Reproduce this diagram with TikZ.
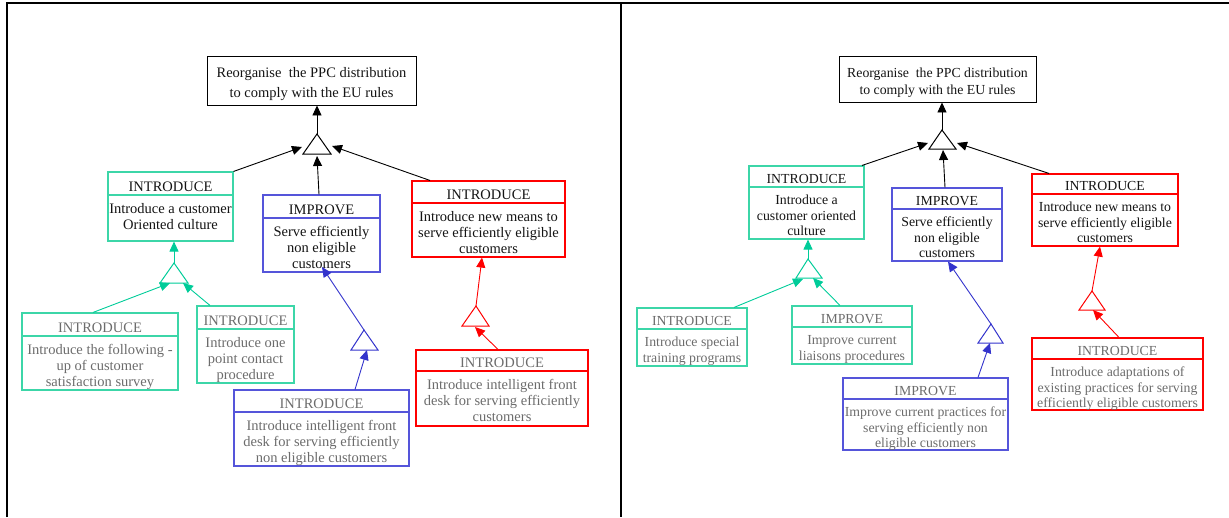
\documentclass[tikz,border=0pt]{standalone}
\usepackage{fontspec}
\setmainfont{Liberation Serif}
\usetikzlibrary{arrows.meta}

\definecolor{gline}{RGB}{0,204,153}
\definecolor{gbord}{RGB}{60,214,168}
\definecolor{bline}{RGB}{51,51,204}
\definecolor{bbord}{RGB}{85,85,218}
\definecolor{rline}{RGB}{255,0,0}
\definecolor{tdark}{RGB}{20,20,20}
\definecolor{tgray}{RGB}{108,108,108}

% goal box: name, x1, y1, x2, y2, divider y, style, header, body
\newcommand\goal[9]{%
  \node[box,#7,minimum width={#4-#2},minimum height={#5-#3}] (#1) at ({(#2+#4)/2},{(#3+#5)/2}) {};
  \draw[box,#7] (#2,#6) -- (#4,#6);
  \node[#7,draw=none,inner sep=0,anchor=base] (#1h) at ({(#2+#4)/2},{#6-4}) {#8};
  \node[#7,draw=none,inner sep=0,anchor=north,align=center] (#1b) at ({(#2+#4)/2},{#6+\bodydrop}) {\strut #9};
}

\tikzset{
  box/.style={rectangle,inner sep=0,line width=1.1pt},
  topbox/.style={rectangle,draw=black,inner sep=0,line width=0.9pt},
  gtop/.style={draw=gbord,text=tdark},
  gsub/.style={draw=gbord,text=tgray},
  btop/.style={draw=bbord,text=tdark},
  bsub/.style={draw=bbord,text=tgray},
  rtop/.style={draw=rline,text=tdark},
  rsub/.style={draw=rline,text=tgray},
  arr/.style={line width=0.9pt,-{Triangle[length=10pt,width=9pt]}},
  tri/.style={line width=1pt,fill=white},
  frame/.style={line width=2pt,black},
}

\begin{document}
\begin{tikzpicture}[x=1pt,y=-1pt]
\useasboundingbox (0,0) rectangle (1229,517);

% panel frame
\draw[frame] (7,517) -- (7,3) -- (1229,3);
\draw[frame] (621,3) -- (621,517);

% ---------------- left panel ----------------
\begin{scope}[every node/.style={font=\fontsize{14.5}{16}\selectfont}]
\def\bodydrop{6.8}
\node[topbox,minimum width=209,minimum height=49] (T1) at (311.5,80.5) {};
\node[text=tdark,inner sep=0,anchor=north,align=center,font=\fontsize{14.5}{20}\selectfont] (T1t) at (311.5,63) {\strut Reorganise\ \ the PPC distribution\\to comply with the EU rules};

\goal{G1}{108}{172}{233}{241}{195}{gtop}{INTRODUCE}{Introduce a customer\\Oriented culture}
\goal{B1}{263}{195}{380}{272}{218}{btop}{IMPROVE}{Serve efficiently\\non eligible\\customers}
\goal{R1}{412}{181}{565}{257}{203}{rtop}{INTRODUCE}{Introduce new means to\\serve efficiently eligible\\customers}
\goal{G2}{22}{313}{178}{390}{336}{gsub}{INTRODUCE}{Introduce the following -\\up of customer\\satisfaction survey}
\goal{G3}{197}{306}{294}{383}{329}{gsub}{INTRODUCE}{Introduce one\\point contact\\procedure}
\goal{B2}{234}{390}{409}{466}{412}{bsub}{INTRODUCE}{Introduce intelligent front\\desk for serving efficiently\\non eligible customers}
\goal{R2}{416}{350}{588}{426}{371}{rsub}{INTRODUCE}{Introduce intelligent front\\desk for serving efficiently\\customers}
\end{scope}

% AND junctions, left panel
\coordinate (K1a) at (317,134); \coordinate (K1l) at (303,154); \coordinate (K1r) at (331,154);
\coordinate (K2a) at (174,263); \coordinate (K2l) at (160,283); \coordinate (K2r) at (188,283);
\coordinate (K3a) at (364,330); \coordinate (K3l) at (351,350); \coordinate (K3r) at (378,350);
\coordinate (K4a) at (476,306); \coordinate (K4l) at (462,326); \coordinate (K4r) at (489,326);
\draw[tri,draw=black] (K1a) -- (K1l) -- (K1r) -- cycle;
\draw[tri,draw=gline] (K2a) -- (K2l) -- (K2r) -- cycle;
\draw[tri,draw=bline] (K3a) -- (K3l) -- (K3r) -- cycle;
\draw[tri,draw=rline] (K4a) -- (K4l) -- (K4r) -- cycle;

\coordinate (K1i1) at (302,147); \coordinate (K1i2) at (317,156); \coordinate (K1i3) at (332,146);
\coordinate (K2i1) at (170,283); \coordinate (K2i2) at (183,283);
\coordinate (K3o) at (322,267); \coordinate (K3i) at (367,350);
\coordinate (K4i) at (475,327);

\draw[arr] (K1a) -- (T1.south -| K1a);
\draw[arr] (G1.north east) -- (K1i1);
\draw[arr] (B1.north -| 319,0) -- (K1i2);
\draw[arr] (R1.north -| 430,0) -- (K1i3);

\draw[arr,gline] (K2a) -- (G1.south -| K2a);
\draw[arr,gline] (G2.north -| 93,0) -- (K2i1);
\draw[arr,gline] (G3.north -| 210,0) -- (K2i2);

\draw[arr,bline] (K3a) -- (K3o);
\draw[arr,bline] (B2.north -| 355,0) -- (K3i);

\draw[arr,rline] (K4a) -- (R1.south -| 482,0);
\draw[arr,rline] (R2.north -| 498,0) -- (K4i);

% ---------------- right panel ----------------
\begin{scope}[every node/.style={font=\fontsize{13.8}{15.5}\selectfont}]
\def\bodydrop{6.6}
\node[topbox,minimum width=197,minimum height=46] (T2) at (937.5,79) {};
\node[text=tdark,inner sep=0,anchor=north,align=center,font=\fontsize{13.8}{17}\selectfont] (T2t) at (937.5,65.1) {\strut Reorganise\ \ the PPC distribution\\to comply with the EU rules};

\goal{G4}{749}{166}{864}{239}{187}{gtop}{INTRODUCE}{Introduce a\\customer oriented\\culture}
\goal{B3}{892}{188}{1002}{261}{209}{btop}{IMPROVE}{Serve efficiently\\non eligible\\customers}
\goal{R3}{1032}{174}{1178}{246}{194}{rtop}{INTRODUCE}{Introduce new means to\\serve efficiently eligible\\customers}
\goal{G5}{637}{308}{747}{366}{329}{gsub}{INTRODUCE}{Introduce special\\training programs}
\goal{G6}{792}{306}{912}{364}{327}{gsub}{IMPROVE}{Improve current\\liaisons procedures}
\goal{B4}{843}{378}{1008}{450}{399}{bsub}{IMPROVE}{Improve current practices for\\serving efficiently non\\eligible customers}
\goal{R4}{1032}{338}{1203}{410}{359}{rsub}{INTRODUCE}{Introduce adaptations of\\existing practices for serving\\efficiently eligible customers}
\end{scope}

% AND junctions, right panel
\coordinate (K5a) at (942,130); \coordinate (K5l) at (929,149); \coordinate (K5r) at (956,149);
\coordinate (K6a) at (808,259); \coordinate (K6l) at (796,278); \coordinate (K6r) at (822,278);
\coordinate (K7a) at (991,324); \coordinate (K7l) at (978,343); \coordinate (K7r) at (1003,343);
\coordinate (K8a) at (1092,291); \coordinate (K8l) at (1079,310); \coordinate (K8r) at (1105,310);
\draw[tri,draw=black] (K5a) -- (K5l) -- (K5r) -- cycle;
\draw[tri,draw=gline] (K6a) -- (K6l) -- (K6r) -- cycle;
\draw[tri,draw=bline] (K7a) -- (K7l) -- (K7r) -- cycle;
\draw[tri,draw=rline] (K8a) -- (K8l) -- (K8r) -- cycle;

\coordinate (K5i1) at (928,143); \coordinate (K5i2) at (943,150); \coordinate (K5i3) at (957,143);
\coordinate (K6i1) at (803,279); \coordinate (K6i2) at (813,278);
\coordinate (K7i) at (990,343);
\coordinate (K8i) at (1093,310);

\draw[arr] (K5a) -- (T2.south -| K5a);
\draw[arr] (G4.north -| 862,0) -- (K5i1);
\draw[arr] (B3.north -| 945,0) -- (K5i2);
\draw[arr] (R3.north -| 1049,0) -- (K5i3);

\draw[arr,gline] (K6a) -- (G4.south -| K6a);
\draw[arr,gline] (G5.north -| 734,0) -- (K6i1);
\draw[arr,gline] (G6.north -| 840,0) -- (K6i2);

\draw[arr,bline] (K7a) -- (B3.south -| 948,0);
\draw[arr,bline] (B4.north -| 978,0) -- (K7i);

\draw[arr,rline] (K8a) -- (R3.south -| 1100,0);
\draw[arr,rline] (R4.north -| 1119,0) -- (K8i);
\end{tikzpicture}
\end{document}
